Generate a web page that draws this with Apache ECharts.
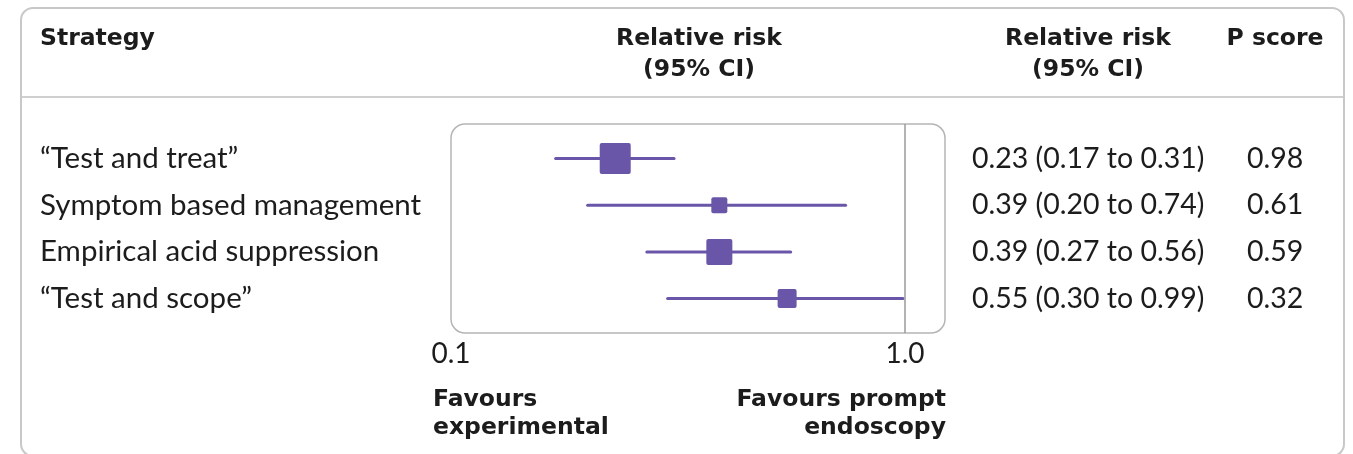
<!DOCTYPE html>
<html>
<head>
<meta charset="utf-8">
<script src="https://cdn.jsdelivr.net/npm/echarts@6/dist/echarts.min.js"></script>
<style>
  html, body { margin: 0; padding: 0; background: #fff; }
  #chart { width: 1353px; height: 454px; }
</style>
</head>
<body>
<div id="chart"></div>
<script>
// data
const strategies = ['“Test and treat”', 'Symptom based management', 'Empirical acid suppression', '“Test and scope”'];
const rr = [0.23, 0.39, 0.39, 0.55];
const ciLow = [0.17, 0.20, 0.27, 0.30];
const ciHigh = [0.31, 0.74, 0.56, 0.99];
const pScore = ['0.98', '0.61', '0.59', '0.32'];
const markerSize = [31, 16, 26, 19]; // square size (weight)
const xTicks = [0.1, 1.0];

const purple = '#6a56a8';
const ink = '#1c1c1c';
const fontBody = 'Lato, "Open Sans", sans-serif';
const fontHead = '"DejaVu Sans", sans-serif';

let ciText = rr.map(function (v, i) {
  return v.toFixed(2) + ' (' + ciLow[i].toFixed(2) + ' to ' + ciHigh[i].toFixed(2) + ')';
});

let chart = echarts.init(document.getElementById('chart'), null, { renderer: 'canvas' });

// box edges (px)
const boxL = 451, boxR = 945, boxT = 124, boxB = 333;
const rowTop = 135.2, rowH = 186.7;

function head(text, left, top, align, lh) {
  return {
    text: text, left: left, top: top, textAlign: align, padding: 0,
    textStyle: { fontSize: 23.5, fontWeight: 'bold', color: ink, fontFamily: fontHead, lineHeight: lh, align: align }
  };
}

let option = {
  animation: false,
  backgroundColor: '#fff',
  textStyle: { fontFamily: fontBody },
  title: [
    head('Strategy', 40, 25, 'left', 28),
    head('Relative risk\n(95% CI)', 699, 23, 'center', 31),
    head('Relative risk\n(95% CI)', 1088, 23, 'center', 31),
    head('P score', 1275, 25, 'center', 28),
    head('Favours\nexperimental', 433, 386, 'left', 28),
    head('Favours prompt\nendoscopy', 946, 386, 'right', 28)
  ],
  graphic: [
    { type: 'rect', z: -10, shape: { x: 21, y: 8, width: 1323, height: 448, r: 12 },
      style: { fill: 'none', stroke: '#c8c8c8', lineWidth: 2 } },
    { type: 'line', z: -10, shape: { x1: 22, y1: 97, x2: 1343, y2: 97 },
      style: { stroke: '#cfcfcf', lineWidth: 2 } },
    { type: 'rect', z: -5, shape: { x: boxL, y: boxT, width: boxR - boxL, height: boxB - boxT, r: 14 },
      style: { fill: 'none', stroke: '#b5b5b5', lineWidth: 1.5 } }
  ],
  grid: [
    { left: boxL, top: boxT, width: boxR - boxL, height: boxB - boxT, show: false },
    { left: boxL, top: rowTop, width: boxR - boxL, height: rowH, show: false }
  ],
  xAxis: [
    {
      type: 'log', logBase: 10, min: 0.1, max: 1.225, gridIndex: 0,
      axisLine: { show: false }, axisTick: { show: false }, splitLine: { show: false },
      axisLabel: {
        margin: 7, fontSize: 28, color: ink, fontFamily: fontBody,
        formatter: function (v) {
          for (let t of xTicks) { if (Math.abs(v - t) < 1e-6) return t.toFixed(1); }
          return '';
        }
      }
    },
    {
      type: 'log', logBase: 10, min: 0.1, max: 1.225, gridIndex: 1, show: false
    }
  ],
  yAxis: [
    { type: 'value', gridIndex: 0, min: 0, max: 1, show: false },
    {
      type: 'category', gridIndex: 1, inverse: true, data: strategies, position: 'left',
      axisLine: { show: false }, axisTick: { show: false },
      axisLabel: { align: 'left', margin: boxL - 40, fontSize: 29.5, color: ink, fontFamily: fontBody }
    },
    {
      type: 'category', gridIndex: 1, inverse: true, data: ciText, position: 'right',
      axisLine: { show: false }, axisTick: { show: false },
      axisLabel: { align: 'left', margin: 972 - boxR, fontSize: 28.5, color: ink, fontFamily: fontBody }
    },
    {
      type: 'category', gridIndex: 1, inverse: true, data: pScore, position: 'right', offset: 1247 - boxR,
      axisLine: { show: false }, axisTick: { show: false },
      axisLabel: { align: 'left', margin: 0, fontSize: 28.5, color: ink, fontFamily: fontBody }
    }
  ],
  series: [
    {
      // reference line at RR = 1
      type: 'line', xAxisIndex: 0, yAxisIndex: 0, data: [], silent: true,
      markLine: {
        symbol: 'none', silent: true, label: { show: false },
        lineStyle: { color: '#9a9a9a', width: 1.5, type: 'solid' },
        data: [{ xAxis: 1 }]
      }
    },
    {
      type: 'custom', xAxisIndex: 1, yAxisIndex: 1,
      data: rr.map(function (v, i) { return [v, i, ciLow[i], ciHigh[i], markerSize[i]]; }),
      encode: { x: 0, y: 1 },
      renderItem: function (params, api) {
        let i = api.value(1);
        let c = api.coord([api.value(0), i]);
        let lo = api.coord([api.value(2), i]);
        let hi = api.coord([api.value(3), i]);
        let s = api.value(4);
        return {
          type: 'group',
          children: [
            { type: 'line', shape: { x1: lo[0], y1: c[1], x2: hi[0], y2: c[1] },
              style: { stroke: purple, lineWidth: 3, lineCap: 'round' } },
            { type: 'rect', shape: { x: c[0] - s / 2, y: c[1] - s / 2, width: s, height: s, r: 2 },
              style: { fill: purple } }
          ]
        };
      }
    }
  ]
};

chart.setOption(option);
</script>
</body>
</html>
